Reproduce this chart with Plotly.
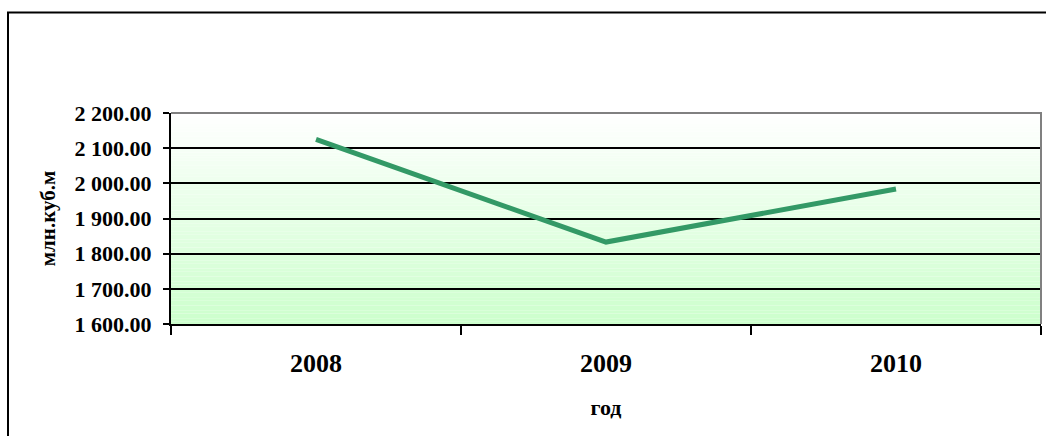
import plotly.graph_objects as go

# Annual volume, million cubic metres
years = ["2008", "2009", "2010"]
volume = [2125.0, 1833.0, 1984.0]

y_min, y_max, y_step = 1600, 2200, 100
y_ticks = list(range(y_min, y_max + 1, y_step))
y_tick_text = [f"{v:,.2f}".replace(",", " ") for v in y_ticks]

W, H = 1046, 436
ML, MR, MT, MB = 171, 5, 113, 112
plot_w = W - ML - MR
plot_h = H - MT - MB

FONT = "Liberation Serif"

fig = go.Figure()
fig.add_trace(go.Scatter(
    x=years, y=volume, mode="lines",
    line=dict(color="#339966", width=5),
    showlegend=False, hoverinfo="skip",
))

shapes = []
# Vertical gradient fill of the plot area: white at top to pale green at bottom
n_bands = 80
top_rgb = (255, 255, 255)
bot_rgb = (204, 255, 204)
for i in range(n_bands):
    t = (i + 0.5) / n_bands
    r = round(bot_rgb[0] + (top_rgb[0] - bot_rgb[0]) * t)
    g = round(bot_rgb[1] + (top_rgb[1] - bot_rgb[1]) * t)
    b = round(bot_rgb[2] + (top_rgb[2] - bot_rgb[2]) * t)
    shapes.append(dict(
        type="rect", xref="x domain", yref="y domain",
        x0=0, x1=1, y0=i / n_bands, y1=(i + 1.02) / n_bands,
        fillcolor=f"rgb({r},{g},{b})", line=dict(width=0), layer="below",
    ))

# Grey frame of the plot area (top and right sides)
shapes.append(dict(
    type="path", xref="x domain", yref="y domain",
    path="M 0 1 L 1 1 L 1 0", line=dict(color="#808080", width=2),
    layer="above",
))

# Outer chart border
px = lambda v: (v - ML) / plot_w
py = lambda v: (H - MB - v) / plot_h
shapes.append(dict(
    type="rect", xref="paper", yref="paper",
    x0=px(8), x1=px(W + 10), y0=py(H + 10), y1=py(12.5),
    line=dict(color="black", width=2), fillcolor="rgba(0,0,0,0)",
    layer="above",
))

fig.update_layout(
    width=W, height=H,
    margin=dict(l=ML, r=MR, t=MT, b=MB, pad=0),
    paper_bgcolor="white", plot_bgcolor="rgba(0,0,0,0)",
    shapes=shapes,
    font=dict(family=FONT, color="black"),
)

fig.update_xaxes(
    type="category", range=[-0.5, 2.5],
    tickson="boundaries", ticks="outside", ticklen=9, tickwidth=1.5,
    tickcolor="black",
    showline=True, linecolor="black", linewidth=2,
    showgrid=False, zeroline=False,
    tickfont=dict(family=FONT, size=26, color="black", weight="bold"),
    ticklabelstandoff=15,
    title=dict(text="<b>год</b>", font=dict(family=FONT, size=22, color="black"),
               standoff=22),
)

fig.update_yaxes(
    range=[y_min, y_max],
    tickvals=y_ticks, ticktext=y_tick_text,
    ticks="outside", ticklen=6, tickwidth=1.5, tickcolor="black",
    showline=True, linecolor="black", linewidth=2,
    showgrid=True, gridcolor="black", gridwidth=1.5,
    zeroline=False,
    tickfont=dict(family=FONT, size=22, color="black", weight="bold"),
    ticklabelstandoff=7,
    title=dict(text="<b>млн.куб.м</b>", font=dict(family=FONT, size=21, color="black"),
               standoff=13),
)

fig.write_html("out.html")
